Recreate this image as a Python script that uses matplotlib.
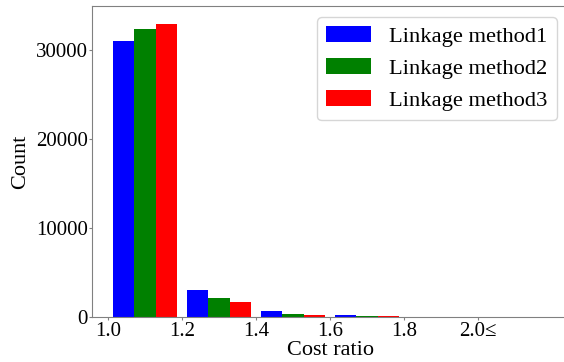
import matplotlib
matplotlib.use("Agg")
import matplotlib.pyplot as plt
import numpy as np

plt.rcParams['font.family'] = ['Liberation Serif', 'DejaVu Serif']

bin_edges = [1.0, 1.2, 1.4, 1.6, 1.8, 2.0]
tick_labels = ["1.0", "1.2", "1.4", "1.6", "1.8", "2.0≤"]
series_names = ["Linkage method1", "Linkage method2", "Linkage method3"]
method1 = [31000, 3070, 740, 270, 50]
method2 = [32330, 2200, 380, 150, 40]
method3 = [32920, 1690, 260, 140, 50]
colors = ["blue", "green", "red"]

fig = plt.figure(figsize=(5.64, 3.62), dpi=100)
ax = fig.add_axes([0.164, 0.124, 0.843, 0.859])

edges = np.array(bin_edges)
binw = edges[1] - edges[0]
rwidth = 0.855
w = binw * rwidth / 3
lefts = edges[:-1] + binw * (1 - rwidth) / 2
for i, (vals, c, name) in enumerate(zip([method1, method2, method3], colors, series_names)):
    ax.bar(lefts + i * w, vals, width=w, align='edge', color=c, label=name)

ax.set_xlim(0.958, 2.243)
ax.set_ylim(0, 34950)
ax.set_xticks(edges)
ax.set_xticklabels(tick_labels)
ax.set_yticks([0, 10000, 20000, 30000])
ax.tick_params(labelsize=15, length=2.5, color='gray', pad=1)
for s in ax.spines.values():
    s.set_color('gray')
ax.set_xlabel("Cost ratio", fontsize=16, labelpad=0)
ax.set_ylabel("Count", fontsize=16)
ax.legend(fontsize=16.2, loc='upper right')

fig.savefig("out.png", dpi=100)
